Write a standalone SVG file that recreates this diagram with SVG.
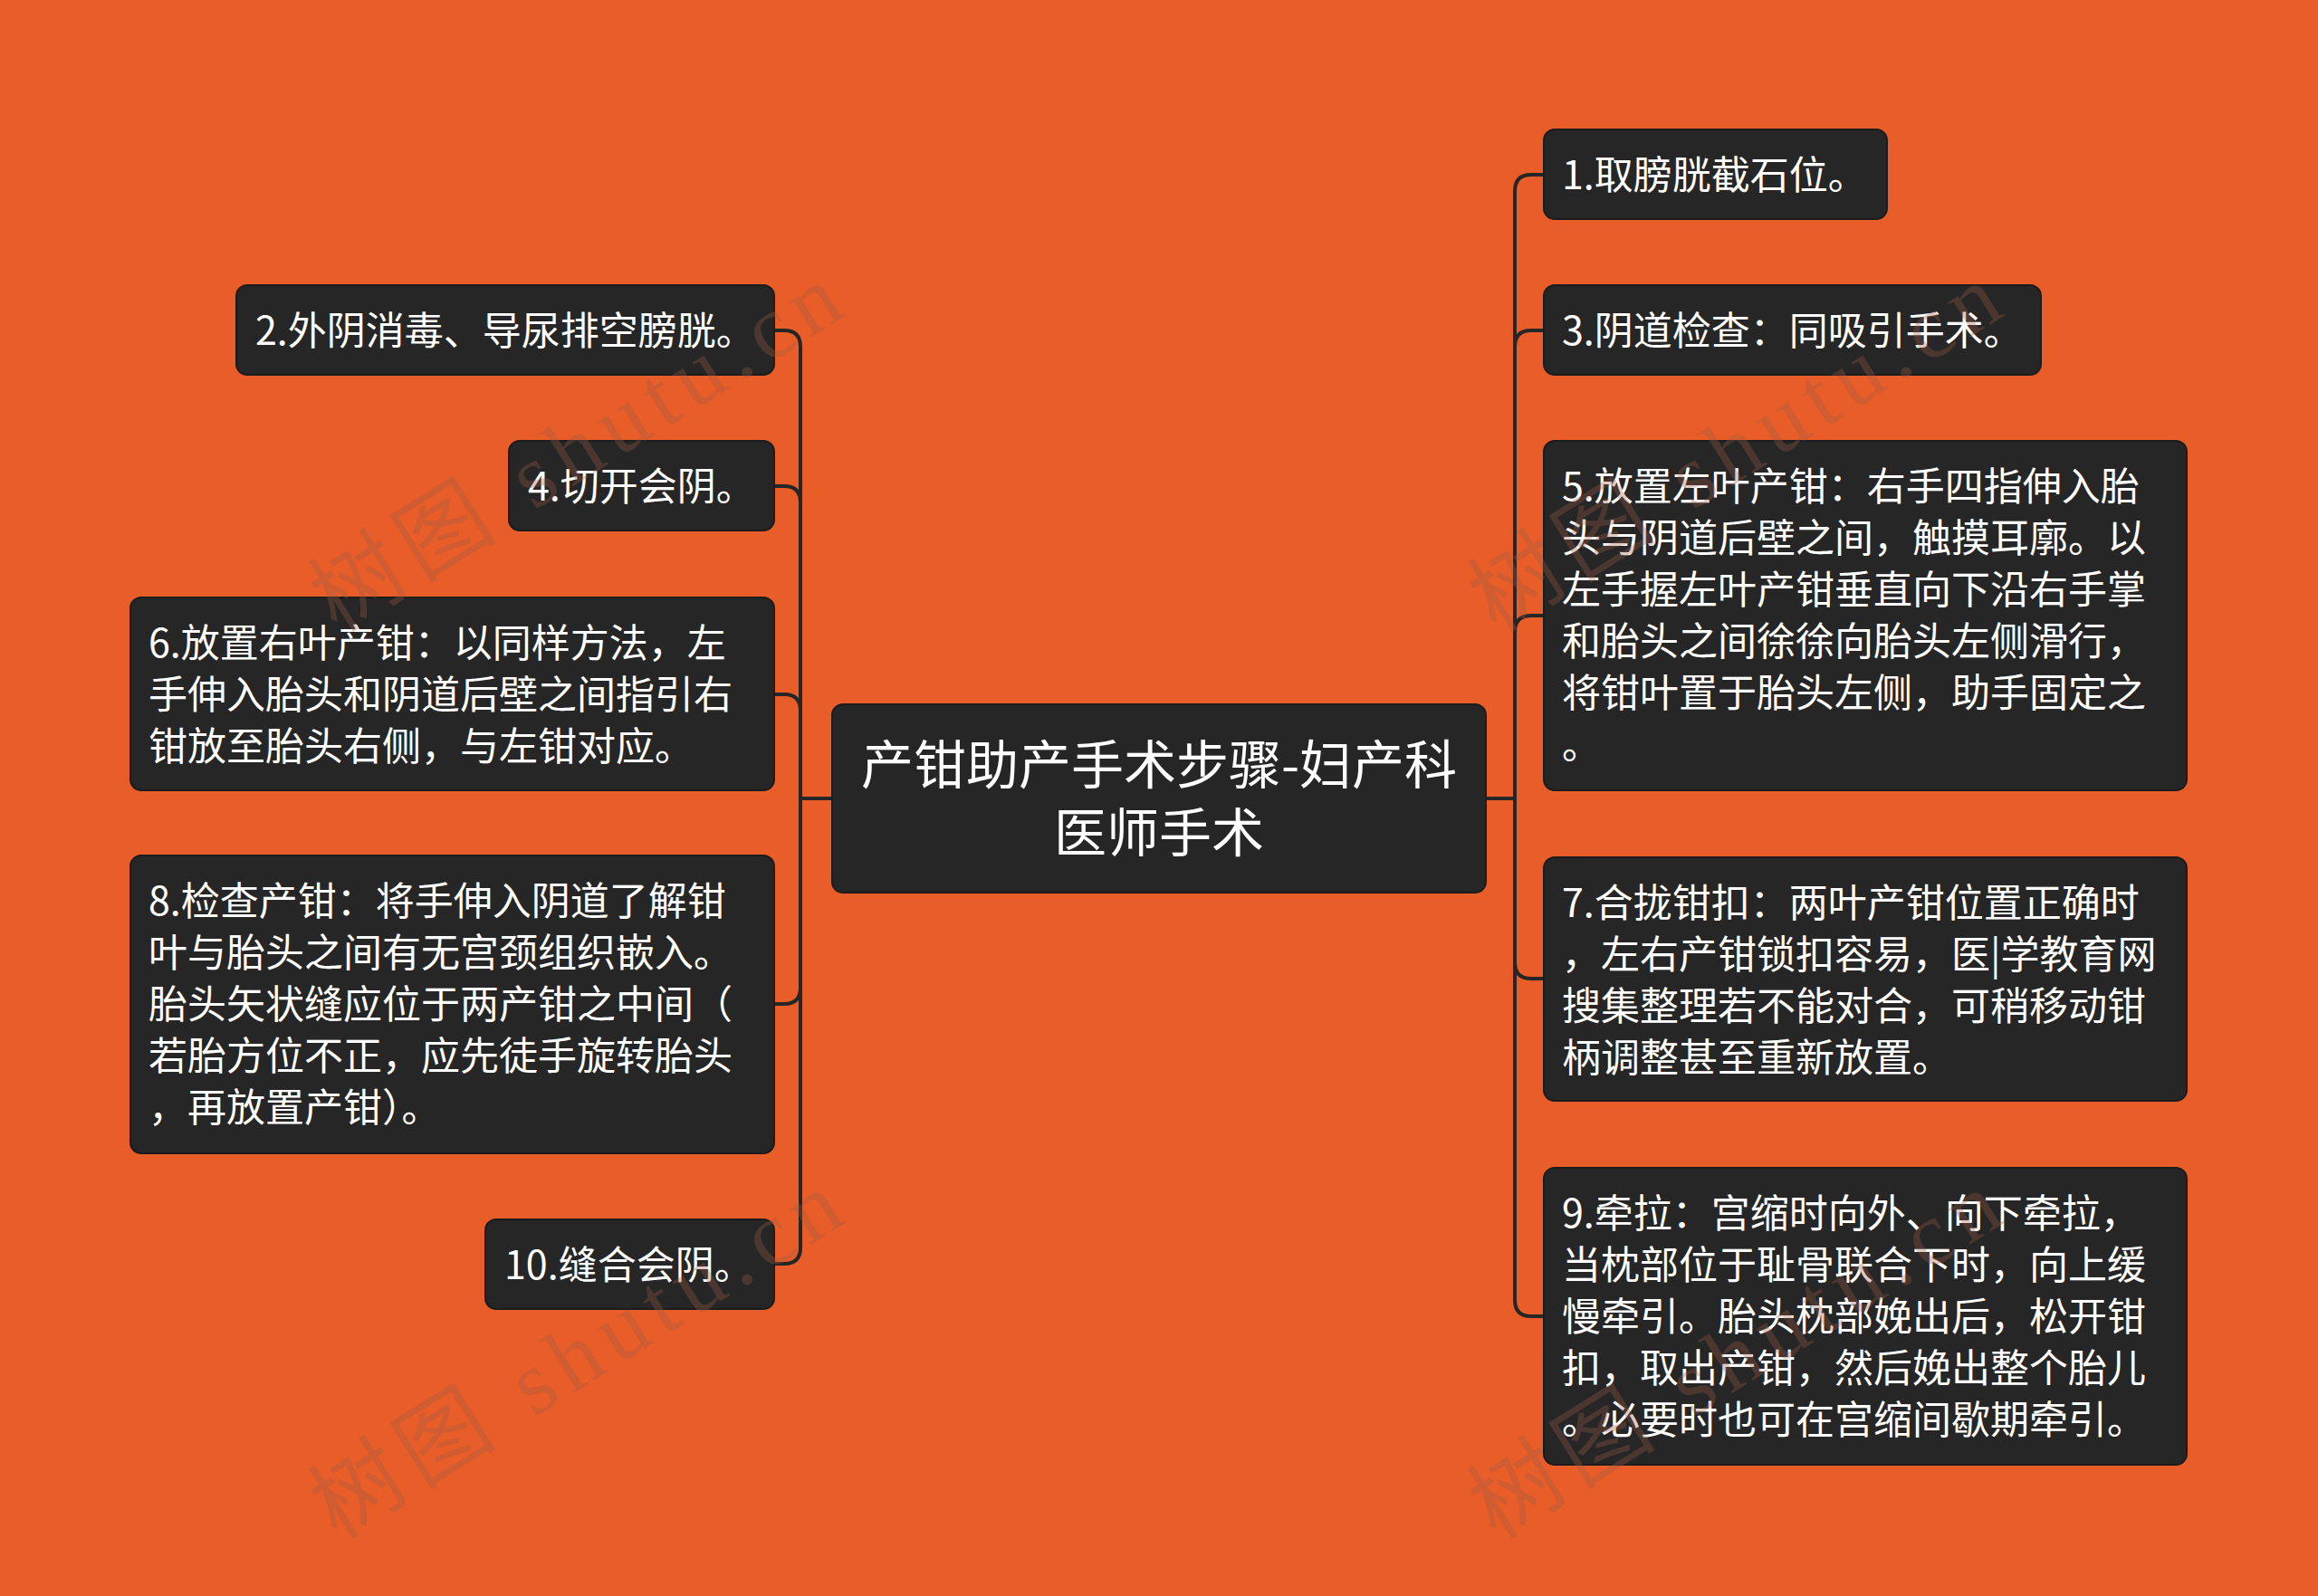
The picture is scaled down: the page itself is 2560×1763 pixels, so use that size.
<svg xmlns="http://www.w3.org/2000/svg" width="2560" height="1763" viewBox="0 0 2560 1763">
<style>
.bg{fill:#E95D29}
.box{fill:#262626;stroke:#1c1c1c;stroke-width:2}
.t{font-family:"Noto Sans CJK SC","Noto Sans",sans-serif;font-size:43px;fill:#ffffff}
.ct{font-family:"Noto Sans CJK SC","Noto Sans",sans-serif;font-size:58px;fill:#ffffff;text-anchor:middle}
.ln{fill:none;stroke:#262626;stroke-width:4;stroke-linecap:round;stroke-linejoin:round}
.wm{font-family:"Liberation Serif","Noto Sans CJK SC",serif;font-size:100px;fill:#9a5a48;fill-opacity:0.32}
</style>
<rect class="bg" x="0" y="0" width="2560" height="1763"/>
<g id="connectors">
<path class="ln" d="M919 882 L884 882"/>
<path class="ln" d="M884 882 L884 383 Q884 365 866 365 L855 365"/>
<path class="ln" d="M884 882 L884 555 Q884 537 866 537 L855 537"/>
<path class="ln" d="M884 882 L884 785 Q884 767 866 767 L855 767"/>
<path class="ln" d="M884 882 L884 1091 Q884 1109 866 1109 L855 1109"/>
<path class="ln" d="M884 882 L884 1378 Q884 1396 866 1396 L855 1396"/>
<path class="ln" d="M1641 882 L1673 882"/>
<path class="ln" d="M1673 882 L1673 211 Q1673 193 1691 193 L1705 193"/>
<path class="ln" d="M1673 882 L1673 383 Q1673 365 1691 365 L1705 365"/>
<path class="ln" d="M1673 882 L1673 698 Q1673 680 1691 680 L1705 680"/>
<path class="ln" d="M1673 882 L1673 1063 Q1673 1081 1691 1081 L1705 1081"/>
<path class="ln" d="M1673 882 L1673 1436 Q1673 1454 1691 1454 L1705 1454"/>
</g>
<g id="center">
<rect class="box" x="919" y="778" width="722" height="208" rx="12"/>
<text class="ct" x="1280" y="866">产钳助产手术步骤-妇产科</text>
<text class="ct" x="1280" y="941">医师手术</text>
</g>
<g id="n1">
<rect class="box" x="1705" y="143" width="379" height="99" rx="12"/>
<text class="t" x="1725" y="209">1.取膀胱截石位。</text>
</g>
<g id="n3">
<rect class="box" x="1705" y="315" width="549" height="99" rx="12"/>
<text class="t" x="1725" y="381">3.阴道检查：同吸引手术。</text>
</g>
<g id="n5">
<rect class="box" x="1705" y="487" width="710" height="386" rx="12"/>
<text class="t" x="1725" y="553">5.放置左叶产钳：右手四指伸入胎</text>
<text class="t" x="1725" y="610">头与阴道后壁之间，触摸耳廓。以</text>
<text class="t" x="1725" y="667">左手握左叶产钳垂直向下沿右手掌</text>
<text class="t" x="1725" y="724">和胎头之间徐徐向胎头左侧滑行，</text>
<text class="t" x="1725" y="781">将钳叶置于胎头左侧，助手固定之</text>
<text class="t" x="1725" y="838">。</text>
</g>
<g id="n7">
<rect class="box" x="1705" y="947" width="710" height="269" rx="12"/>
<text class="t" x="1725" y="1013">7.合拢钳扣：两叶产钳位置正确时</text>
<text class="t" x="1725" y="1070">，左右产钳锁扣容易，医|学教育网</text>
<text class="t" x="1725" y="1127">搜集整理若不能对合，可稍移动钳</text>
<text class="t" x="1725" y="1184">柄调整甚至重新放置。</text>
</g>
<g id="n9">
<rect class="box" x="1705" y="1290" width="710" height="328" rx="12"/>
<text class="t" x="1725" y="1356">9.牵拉：宫缩时向外、向下牵拉，</text>
<text class="t" x="1725" y="1413">当枕部位于耻骨联合下时，向上缓</text>
<text class="t" x="1725" y="1470">慢牵引。胎头枕部娩出后，松开钳</text>
<text class="t" x="1725" y="1527">扣，取出产钳，然后娩出整个胎儿</text>
<text class="t" x="1725" y="1584">。必要时也可在宫缩间歇期牵引。</text>
</g>
<g id="n2">
<rect class="box" x="261" y="315" width="594" height="99" rx="12"/>
<text class="t" x="282" y="381">2.外阴消毒、导尿排空膀胱。</text>
</g>
<g id="n4">
<rect class="box" x="562" y="487" width="293" height="99" rx="12"/>
<text class="t" x="583" y="553">4.切开会阴。</text>
</g>
<g id="n6">
<rect class="box" x="144" y="660" width="711" height="213" rx="12"/>
<text class="t" x="164" y="726">6.放置右叶产钳：以同样方法，左</text>
<text class="t" x="164" y="783">手伸入胎头和阴道后壁之间指引右</text>
<text class="t" x="164" y="840">钳放至胎头右侧，与左钳对应。</text>
</g>
<g id="n8">
<rect class="box" x="144" y="945" width="711" height="329" rx="12"/>
<text class="t" x="164" y="1011">8.检查产钳：将手伸入阴道了解钳</text>
<text class="t" x="164" y="1068">叶与胎头之间有无宫颈组织嵌入。</text>
<text class="t" x="164" y="1125">胎头矢状缝应位于两产钳之中间（</text>
<text class="t" x="164" y="1182">若胎方位不正，应先徒手旋转胎头</text>
<text class="t" x="164" y="1239">，再放置产钳）。</text>
</g>
<g id="n10">
<rect class="box" x="536" y="1347" width="319" height="99" rx="12"/>
<text class="t" x="557" y="1413">10.缝合会阴。</text>
</g>
<g id="watermarks">
<text class="wm" transform="translate(372 700) rotate(-32)" textLength="665" lengthAdjust="spacing">树图 shutu.cn</text>
<text class="wm" transform="translate(372 1702) rotate(-32)" textLength="665" lengthAdjust="spacing">树图 shutu.cn</text>
<text class="wm" transform="translate(1652 700) rotate(-32)" textLength="665" lengthAdjust="spacing">树图 shutu.cn</text>
<text class="wm" transform="translate(1652 1702) rotate(-32)" textLength="665" lengthAdjust="spacing">树图 shutu.cn</text>
</g>
</svg>
